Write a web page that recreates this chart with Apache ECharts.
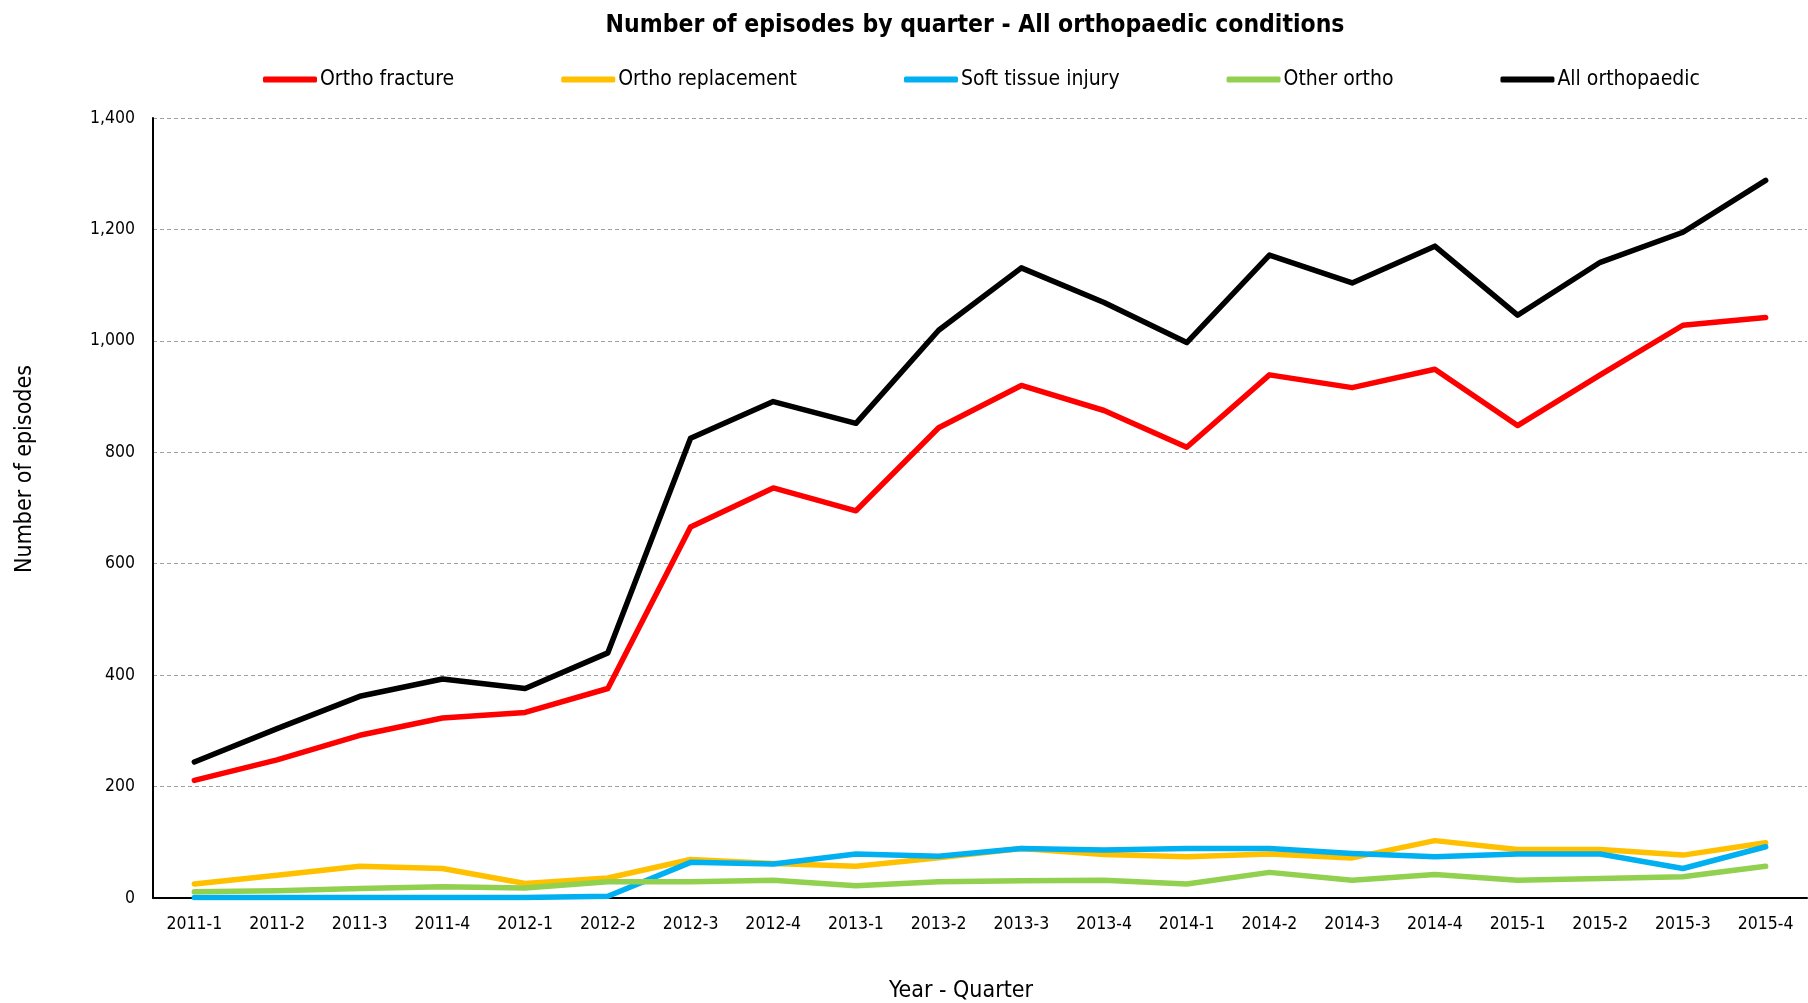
<!DOCTYPE html>
<html>
<head>
<meta charset="utf-8">
<title>Number of episodes by quarter</title>
<script src="https://cdn.jsdelivr.net/npm/echarts@6/dist/echarts.min.js"></script>
<style>
  html, body { margin: 0; padding: 0; background: #fff; }
  #chart { width: 1808px; height: 1003px; }
</style>
</head>
<body>
<div id="chart"></div>
<script>
// Quarterly episode counts, 2011 Q1 to 2015 Q4
const quarters = ['2011-1','2011-2','2011-3','2011-4','2012-1','2012-2','2012-3','2012-4',
  '2013-1','2013-2','2013-3','2013-4','2014-1','2014-2','2014-3','2014-4',
  '2015-1','2015-2','2015-3','2015-4'];

const orthoFracture = [211, 248, 292, 323, 333, 376, 666, 736, 695, 844,
  920, 875, 809, 939, 916, 949, 848, 939, 1028, 1042];
const orthoReplacement = [25, 41, 57, 53, 26, 36, 69, 62, 57, 72,
  89, 78, 74, 79, 72, 103, 87, 87, 77, 99];
const softTissueInjury = [1, 1, 1, 1, 1, 3, 64, 61, 79, 75,
  89, 86, 89, 89, 80, 74, 79, 79, 53, 92];
const otherOrtho = [11, 13, 17, 20, 18, 29, 29, 32, 22, 29,
  31, 32, 25, 46, 32, 42, 32, 35, 38, 57];
const allOrthopaedic = [244, 304, 362, 393, 376, 440, 825, 891, 852, 1019,
  1131, 1069, 997, 1154, 1104, 1170, 1046, 1141, 1195, 1288];

const yTicks = { min: 0, max: 1400, step: 200 };

const FONT = "'Liberation Sans Narrow', 'Arial Narrow', 'DejaVu Sans Condensed', sans-serif";

const seriesDefs = [
  { name: 'Ortho fracture', data: orthoFracture, color: '#FF0000' },
  { name: 'Ortho replacement', data: orthoReplacement, color: '#FFC000' },
  { name: 'Soft tissue injury', data: softTissueInjury, color: '#00B0F0' },
  { name: 'Other ortho', data: otherOrtho, color: '#92D050' },
  { name: 'All orthopaedic', data: allOrthopaedic, color: '#000000' }
];

const chart = echarts.init(document.getElementById('chart'), null, { renderer: 'canvas' });

chart.setOption({
  backgroundColor: '#ffffff',
  animation: false,
  title: {
    text: 'Number of episodes by quarter - All orthopaedic conditions',
    left: 970,
    textAlign: 'center',
    top: 8,
    textStyle: { fontFamily: FONT, fontSize: 24.5, fontWeight: 'bold', color: '#000' }
  },
  legend: {
    top: 64,
    left: 258,
    itemGap: 107,
    itemWidth: 54,
    itemHeight: 6,
    icon: 'roundRect',
    textStyle: { fontFamily: FONT, fontSize: 21, color: '#000', padding: [0, 0, 0, -2] },
    data: seriesDefs.map(s => s.name)
  },
  grid: { left: 153, right: 1, top: 118, bottom: 105, containLabel: false },
  xAxis: {
    type: 'category',
    data: quarters,
    boundaryGap: true,
    axisLine: { lineStyle: { color: '#000', width: 2 } },
    axisTick: { show: false },
    axisLabel: { interval: 0, fontFamily: FONT, fontSize: 17.5, color: '#000', margin: 17 }
  },
  yAxis: {
    type: 'value',
    min: yTicks.min,
    max: yTicks.max,
    interval: yTicks.step,
    axisLine: { show: true, lineStyle: { color: '#000', width: 2 } },
    axisTick: { show: false },
    axisLabel: {
      fontFamily: FONT, fontSize: 17.5, color: '#000', margin: 18,
      formatter: v => v.toLocaleString('en-US')
    },
    splitLine: { lineStyle: { color: '#A0A0A0', type: [4, 3], width: 1 } }
  },
  graphic: [
    {
      type: 'text',
      x: 25, y: 469,
      rotation: Math.PI / 2,
      style: {
        text: 'Number of episodes',
        fontFamily: FONT, fontSize: 23, fill: '#000',
        textAlign: 'center', textVerticalAlign: 'middle'
      }
    },
    {
      type: 'text',
      x: 961, y: 991,
      style: {
        text: 'Year - Quarter',
        fontFamily: FONT, fontSize: 23, fill: '#000',
        textAlign: 'center', textVerticalAlign: 'middle'
      }
    }
  ],
  series: seriesDefs.map(s => ({
    name: s.name,
    type: 'line',
    data: s.data,
    symbol: 'none',
    color: s.color,
    lineStyle: { color: s.color, width: 5.5, cap: 'round', join: 'round' },
    itemStyle: { color: s.color }
  }))
});
</script>
</body>
</html>
